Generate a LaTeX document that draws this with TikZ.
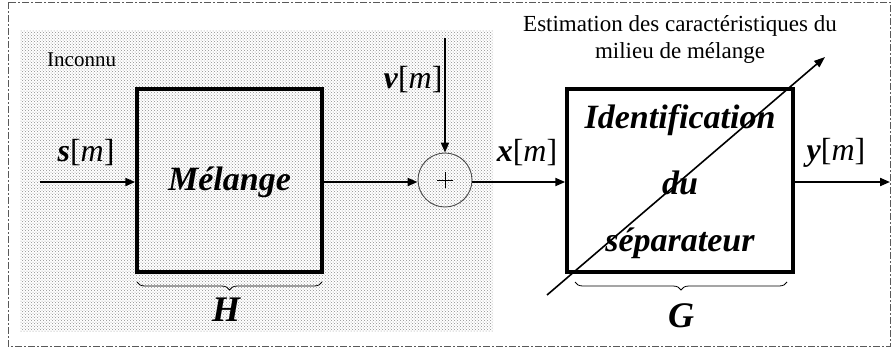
\documentclass[tikz,border=0pt]{standalone}
\usepackage{fontspec}
\setmainfont{Liberation Serif}
\usetikzlibrary{arrows.meta,patterns,decorations.pathreplacing}
\tikzset{
  blockbox/.style={draw, line width=3.5pt, minimum width=#1, inner sep=0pt},
  sig/.style={line width=2pt, -{Triangle[length=10pt,width=8pt]}},
  bigtxt/.style={font=\fontsize{34}{34}\selectfont\bfseries\itshape, inner sep=0pt},
  lbl/.style={font=\fontsize{32}{32}\selectfont, inner sep=0pt},
  smalltxt/.style={font=\fontsize{21}{24}\selectfont, inner sep=0pt},
  esttxt/.style={font=\fontsize{23}{27}\selectfont, inner sep=0pt},
  brc/.style={decorate, decoration={brace, mirror, amplitude=8pt}, line width=0.8pt}
}
\newcommand{\sigl}[1]{\textbf{\textit{#1}}[\textit{m}]}
\begin{document}
\begin{tikzpicture}[x=1pt,y=-1pt]
\useasboundingbox (0,0) rectangle (893,349);
% dotted unknown region
\fill[pattern=crosshatch dots, pattern color=gray!90] (20,30) rectangle (493,331);
% outer dash-dot border
\draw[line width=1pt, gray!70!black, dash pattern=on 7pt off 2pt on 2pt off 2pt] (8,2) rectangle (890,346);
\node[smalltxt, anchor=west] (inc) at (47,60) {Inconnu};
% blocks
\node[blockbox=185pt, minimum height=183pt] (mel) at (229.5,180.5) {};
\node[bigtxt] (meltxt) at (229.5,182) {Mélange};
\node[blockbox=226pt, minimum height=183pt] (sep) at (680,180.5) {};
\node[bigtxt] (l1) at (680,120) {Identification};
\node[bigtxt] (l2) at (680,183) {du};
\node[bigtxt] (l3) at (680,243) {séparateur};
% summing junction
\node[draw, gray!60!black, line width=0.9pt, circle, minimum size=54pt, inner sep=0pt] (sum) at (445,180) {};
\draw[line width=0.7pt] (437,180) -- (453,180) (445,172) -- (445,188);
% coordinates
\coordinate (sin) at (40,182);
\coordinate (vin) at (445,38);
\coordinate (yout) at (890,182);
\coordinate (dA) at (547,295);
\coordinate (dB) at (825,57);
% connectors
\draw[sig] (sin) -- (sin -| mel.west);
\draw[sig] (mel.east |- sin) -- (sum.west |- sin);
\draw[sig] (vin) -- (sum.north);
\draw[sig] (sum.east |- sin) -- (sep.west |- sin);
\draw[sig] (sep.east |- sin) -- (yout);
\draw[line width=1.6pt, -{Triangle[length=11pt,width=8pt]}] (dA) -- (dB);
% labels
\node[lbl] (sl) at (86,153) {\sigl{s}};
\node[lbl] (vl) at (413,80) {\sigl{v}};
\node[lbl] (xl) at (527,153) {\sigl{x}};
\node[lbl] (yl) at (836,153) {\sigl{y}};
\node[esttxt, align=center] (est) at (680,39) {Estimation des caractéristiques du\\milieu de mélange};
% braces
\draw[brc] (137,282) -- (322,282);
\draw[brc] (575,282) -- (787,282);
\node[bigtxt, font=\fontsize{36}{36}\selectfont\bfseries\itshape] (H) at (226,310) {H};
\node[bigtxt, font=\fontsize{36}{36}\selectfont\bfseries\itshape] (G) at (681,316) {G};
\end{tikzpicture}
\end{document}
